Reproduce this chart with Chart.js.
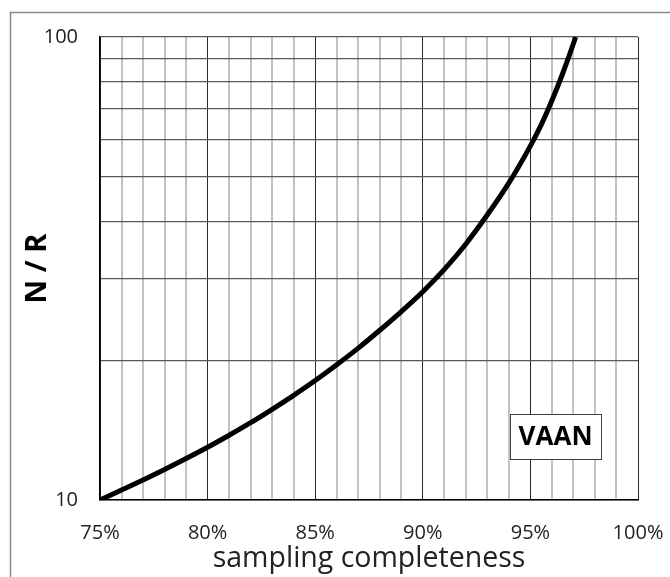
<!DOCTYPE html>
<html>
<head>
<meta charset="utf-8">
<script src="https://cdn.jsdelivr.net/npm/chart.js@4.4.0/dist/chart.umd.min.js"></script>
<style>
  html, body { margin: 0; padding: 0; background: #fff; }
  #wrap { width: 670px; height: 577px; }
</style>
</head>
<body>
<div id="wrap"><canvas id="chart" width="670" height="577"></canvas></div>
<script>
  'use strict';

  // sampling completeness (%) and N/R
  var completeness = [75, 76, 77, 78, 79, 80, 81, 82, 83, 84, 85, 86, 87, 88, 89, 90, 91, 92, 93, 94, 95, 95.5, 96, 96.5, 97, 97.1];
  var nrValues = [10, 10.51, 11.05, 11.64, 12.29, 13.0, 13.8, 14.69, 15.7, 16.83, 18.11, 19.59, 21.28, 23.26, 25.53, 28.18, 31.48, 35.73, 41.3, 48.4, 58.2, 64.6, 72.9, 83.4, 96.8, 100];

  var xLabelTicks = [75, 80, 85, 90, 95, 100];
  var yGridValues = [10, 20, 30, 40, 50, 60, 70, 80, 90, 100];
  var yLabelTicks = [10, 100];
  var boxLabel = 'VAAN';

  var FONT = "'Open Sans', 'Noto Sans', sans-serif";

  var points = completeness.map(function(x, i) {
    return { x: x, y: nrValues[i] };
  });

  // grey frame round the whole figure
  var framePlugin = {
    id: 'frame',
    beforeDraw: function(chart) {
      var ctx = chart.ctx;
      ctx.save();
      ctx.fillStyle = '#fff';
      ctx.fillRect(0, 0, chart.width, chart.height);
      ctx.strokeStyle = '#8a8a8a';
      ctx.lineWidth = 1.5;
      ctx.strokeRect(10.5, 12.5, 700, 600);
      ctx.restore();
    }
  };

  // labelled box in the lower right corner
  var boxPlugin = {
    id: 'vaanBox',
    afterDatasetsDraw: function(chart) {
      var ctx = chart.ctx;
      var cx = chart.scales.x.getPixelForValue(96.17);
      var cy = chart.scales.y.getPixelForValue(13.7);
      var w = 91, h = 45;
      ctx.save();
      ctx.fillStyle = '#fff';
      ctx.fillRect(cx - w / 2, cy - h / 2, w, h);
      ctx.strokeStyle = '#404040';
      ctx.lineWidth = 1;
      ctx.strokeRect(Math.round(cx - w / 2) + 0.5, Math.round(cy - h / 2) + 0.5, w, h);
      ctx.fillStyle = '#000';
      ctx.font = "bold 26px " + FONT;
      ctx.textAlign = 'center';
      ctx.textBaseline = 'middle';
      ctx.fillText(boxLabel, cx, cy + 1);
      ctx.restore();
    }
  };

  new Chart(document.getElementById('chart'), {
    type: 'line',
    data: {
      datasets: [{
        data: points,
        borderColor: '#000',
        borderWidth: 5,
        pointRadius: 0,
        fill: false,
        cubicInterpolationMode: 'monotone'
      }]
    },
    options: {
      responsive: false,
      animation: false,
      devicePixelRatio: 1,
      layout: { padding: { left: 0, right: 32, top: 37, bottom: 0 } },
      plugins: {
        legend: { display: false },
        tooltip: { enabled: false }
      },
      scales: {
        x: {
          type: 'linear',
          min: 75,
          max: 100,
          afterFit: function(scale) {
            scale.height = 77;
            scale.paddingLeft = 0;
            scale.paddingRight = 0;
          },
          ticks: {
            stepSize: 1,
            autoSkip: false,
            maxRotation: 0,
            padding: 21,
            color: '#222',
            font: { family: FONT, size: 20 },
            callback: function(v) {
              return xLabelTicks.indexOf(v) >= 0 ? v + '%' : '';
            }
          },
          grid: {
            drawTicks: false,
            color: function(c) {
              return xLabelTicks.indexOf(c.tick.value) >= 0 ? '#2a2a2a' : '#c2c2c2';
            },
            lineWidth: function(c) {
              return xLabelTicks.indexOf(c.tick.value) >= 0 ? 1 : 2;
            }
          },
          border: { color: '#000', width: 1.5 },
          title: {
            display: true,
            text: 'sampling completeness',
            color: '#222',
            font: { family: FONT, size: 28.5 },
            padding: { top: 0, bottom: 1 }
          }
        },
        y: {
          type: 'logarithmic',
          min: 10,
          max: 100,
          afterFit: function(scale) { scale.width = 100; },
          afterBuildTicks: function(scale) {
            scale.ticks = yGridValues.map(function(v) { return { value: v }; });
          },
          ticks: {
            padding: 22,
            color: '#222',
            font: { family: FONT, size: 20 },
            callback: function(v) {
              return yLabelTicks.indexOf(v) >= 0 ? String(v) : '';
            }
          },
          grid: {
            drawTicks: false,
            color: '#5a5a5a',
            lineWidth: 1.2
          },
          border: { color: '#000', width: 1.5 },
          title: {
            display: true,
            text: 'N / R',
            color: '#000',
            font: { family: FONT, size: 29, weight: 'bold' },
            padding: { top: 20, bottom: 0 }
          }
        }
      }
    },
    plugins: [framePlugin, boxPlugin]
  });
</script>
</body>
</html>
